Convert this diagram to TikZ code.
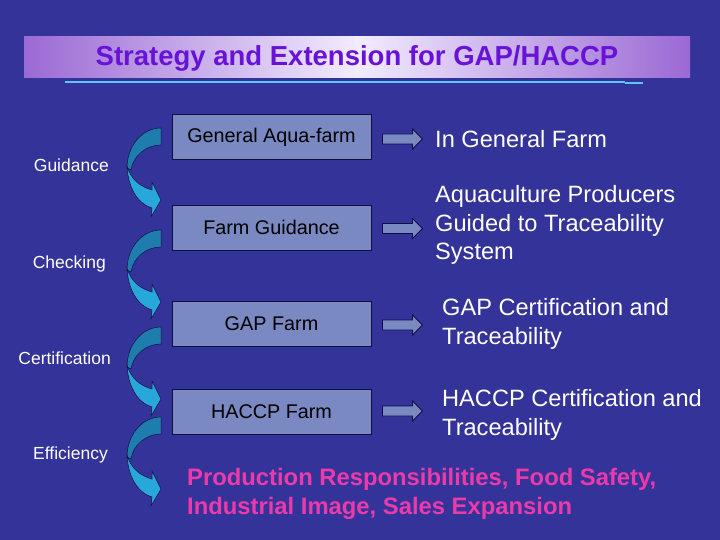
\documentclass[tikz,border=0pt]{standalone}
\usepackage{fontspec}
\setmainfont{Liberation Sans}
\usetikzlibrary{calc}
\definecolor{bgblue}{RGB}{51,51,153}
\definecolor{boxfill}{RGB}{122,137,194}
\definecolor{boxline}{RGB}{16,16,64}
\definecolor{titlecol}{RGB}{104,18,216}
\definecolor{bandedge}{RGB}{155,105,212}
\definecolor{bandmid}{RGB}{242,236,255}
\definecolor{rulecol}{RGB}{90,200,255}
\definecolor{darkteal}{RGB}{30,125,172}
\definecolor{lightteal}{RGB}{40,168,218}
\definecolor{pinktext}{RGB}{236,58,170}
\tikzset{
  farmbox/.style={draw=boxline, line width=0.9pt, fill=boxfill, minimum width=199pt, minimum height=45pt, inner sep=0pt, font=\fontsize{19.8}{23}\selectfont, text=black},
  righttext/.style={anchor=west, inner sep=0pt, align=left, text=white, font=\fontsize{23.6}{28.6}\selectfont},
  sidelabel/.style={anchor=east, inner sep=0pt, text=white, font=\fontsize{17.5}{20}\selectfont},
  smallarrow/.style={draw=boxline, line width=0.8pt, fill=boxfill},
  curvedark/.style={draw=boxline, line width=0.5pt, fill=darkteal},
  curvelight/.style={draw=boxline, line width=0.5pt, fill=lightteal}
}
\begin{document}
\begin{tikzpicture}[x=1pt,y=-1pt]
\useasboundingbox (0,0) rectangle (720,540);
\fill[bgblue] (0,0) rectangle (720,540);
% title band
\shade[left color=bandedge, right color=bandedge, middle color=bandmid] (24,37) rectangle (690,78);
\node[text=titlecol, font=\fontsize{27.5}{30}\selectfont\bfseries, inner sep=0pt] (title) at (357,58) {Strategy and Extension for GAP/HACCP};
\draw[rulecol, line width=1.3pt] (65,82) -- (625,82);
\draw[rulecol, line width=1.3pt] (625,83) -- (643,83);
% boxes
\node[farmbox] (b1) at (271.5,137) {General Aqua-farm};
\node[farmbox] (b2) at (271.5,227.5) {Farm Guidance};
\node[farmbox] (b3) at (271.5,323.5) {GAP Farm};
\node[farmbox] (b4) at (271.5,411.5) {HACCP Farm};
% right texts
\node[righttext] (r1) at (435,139) {In General Farm};
\node[righttext] (r2) at (435,225) {Aquaculture Producers\\Guided to Traceability\\System};
\node[righttext] (r3) at (442,324) {GAP Certification and\\Traceability};
\node[righttext] (r4) at (442,415) {HACCP Certification and\\Traceability};
\node[anchor=west, inner sep=0pt, align=left, text=pinktext, font=\fontsize{23.8}{28.3}\selectfont\bfseries] (res) at (187,494) {Production Responsibilities, Food Safety,\\Industrial Image, Sales Expansion};
% side labels
\node[sidelabel] (l1) at (109,165) {Guidance};
\node[sidelabel] (l2) at (106,264) {Checking};
\node[sidelabel] (l3) at (111,358) {Certification};
\node[sidelabel] (l4) at (108,455) {Efficiency};
% small block arrows from boxes to texts
\foreach \b/\dy in {b1/2, b2/1, b3/1.5, b4/-0.5}{
  \draw[smallarrow, shift={($(\b.east)+(0,\dy)$)}]
    (11,-5) -- (41,-5) -- (41,-10) -- (51,0) -- (41,10) -- (41,5) -- (11,5) -- cycle;
}
% curved arrows
\foreach \t in {128,230,327,417}{
  \begin{scope}[shift={(0,\t)}]
    \draw[curvedark] (161,0) .. controls (142,0) and (127,18) .. (127,40)
      -- (131,42) .. controls (133,28) and (146,17) .. (161,17) -- cycle;
    \draw[curvelight] (127,38) .. controls (128,60) and (138,76) .. (152,80)
      -- (151,89) -- (161,72) -- (152,54) -- (152,62)
      .. controls (141,59) and (131,52) .. (127,38) -- cycle;
  \end{scope}
}
\end{tikzpicture}
\end{document}
